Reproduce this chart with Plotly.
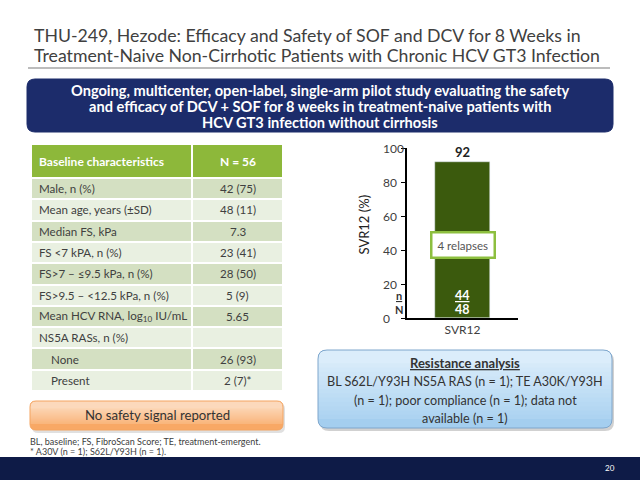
import plotly.graph_objects as go

# ---------------- data ----------------
categories = ["SVR12"]
svr_values = [92]
n_achieved = [44]
n_total = [48]
relapse_label = "4 relapses"

table_header = ["Baseline characteristics", "N = 56"]
table_labels = ["Male, n (%)", "Mean age, years (±SD)", "Median FS, kPa", "FS &lt;7 kPA, n (%)",
                "FS&gt;7 – ≤9.5 kPa, n (%)", "FS&gt;9.5 – &lt;12.5 kPa, n (%)",
                "Mean HCV RNA, log<sub>10</sub> IU/mL", "NS5A RASs, n (%)",
                "None", "Present"]
table_indent = [0, 0, 0, 0, 0, 0, 0, 0, 1, 1]
table_values = ["42 (75)", "48 (11)", "7.3", "23 (41)", "28 (50)", "5 (9)", "5.65", "", "26 (93)", "2 (7)*"]
yticks = [0, 20, 40, 60, 80, 100]

FONT = "Lato"
W, H = 640, 480

# table geometry (pixels)
COL_W = [161, 91]
HEAD_H = 34
ROW_H = 21.3


def px(x):
    return x / W


def py(y):
    return 1 - y / H


def rrect(x0, y0, x1, y1, r):
    rx, ry = r / W, r / H
    X0, X1 = px(x0), px(x1)
    Y0, Y1 = py(y0), py(y1)
    return (f"M{X0+rx},{Y0} L{X1-rx},{Y0} Q{X1},{Y0} {X1},{Y0-ry} "
            f"L{X1},{Y1+ry} Q{X1},{Y1} {X1-rx},{Y1} L{X0+rx},{Y1} "
            f"Q{X0},{Y1} {X0},{Y1+ry} L{X0},{Y0-ry} Q{X0},{Y0} {X0+rx},{Y0} Z")


def top_round(x0, y0, x1, yb, r):
    rx, ry = r / W, r / H
    X0, X1, Y0, YB = px(x0), px(x1), py(y0), py(yb)
    return (f"M{X0},{YB} L{X0},{Y0-ry} Q{X0},{Y0} {X0+rx},{Y0} L{X1-rx},{Y0} "
            f"Q{X1},{Y0} {X1},{Y0-ry} L{X1},{YB} Z")


def hex_rgb(h):
    h = h.lstrip("#")
    return [int(h[i:i + 2], 16) for i in (0, 2, 4)]


def lerp(c0, c1, t):
    a, b = hex_rgb(c0), hex_rgb(c1)
    return "rgb({},{},{})".format(*[round(a[k] + (b[k] - a[k]) * t) for k in range(3)])


def grad_box(shapes, x0, y0, x1, y1, r, top_col, bot_col, border, steps=14):
    shapes.append(dict(type="path", xref="paper", yref="paper", path=rrect(x0, y0, x1, y1, r),
                       fillcolor=bot_col, line=dict(width=0)))
    span = (y1 - r) - (y0 + r)
    ybs = [(y1 - r) - span * i / steps for i in range(steps)] + [y0 + r * 0.5]
    for i in range(steps):
        mid = (ybs[i] + ybs[i + 1]) / 2
        t = (mid - y0) / (y1 - y0)
        shapes.append(dict(type="path", xref="paper", yref="paper",
                           path=top_round(x0, y0, x1, ybs[i], r),
                           fillcolor=lerp(top_col, bot_col, t), line=dict(width=0)))
    shapes.append(dict(type="path", xref="paper", yref="paper", path=rrect(x0, y0, x1, y1, r),
                       fillcolor="rgba(0,0,0,0)", line=dict(color=border, width=1)))


def note(x, y, text, size, color="#404040", anchor="center", bold=False):
    if bold:
        text = f"<b>{text}</b>"
    return dict(xref="paper", yref="paper", x=px(x), y=py(y), xanchor=anchor, yanchor="middle",
                showarrow=False, text=text, font=dict(family=FONT, size=size, color=color))


fig = go.Figure()

# ---- bar chart ----
fig.add_trace(go.Bar(x=categories, y=svr_values, marker_color="#3B5A0D", width=0.5,
                     showlegend=False, hoverinfo="skip"))

# ---- table as heatmap cells on its own axes ----
n_rows = len(table_labels)
x_edges = [0, COL_W[0], COL_W[0] + COL_W[1]]
y_edges = [0, HEAD_H] + [HEAD_H + ROW_H * (i + 1) for i in range(n_rows)]
z = [[0, 0]] + [[1, 1] if i % 2 == 0 else [2, 2] for i in range(n_rows)]
fig.add_trace(go.Heatmap(x=x_edges, y=y_edges, z=z, zmin=0, zmax=2,
                         colorscale=[[0, "#8DB83A"], [0.5, "#D4E0C2"], [1, "#E9F0E1"]],
                         showscale=False, xgap=2, ygap=2, hoverinfo="skip",
                         xaxis="x2", yaxis="y2"))

shapes = []
annotations = []

row_centers = [(y_edges[i] + y_edges[i + 1]) / 2 for i in range(len(y_edges) - 1)]
col_center2 = COL_W[0] + COL_W[1] / 2
annotations.append(dict(xref="x2", yref="y2", x=6, y=row_centers[0], xanchor="left", yanchor="middle",
                        showarrow=False, text=f"<b>{table_header[0]}</b>",
                        font=dict(family=FONT, size=12, color="white")))
annotations.append(dict(xref="x2", yref="y2", x=col_center2, y=row_centers[0], xanchor="center",
                        yanchor="middle", showarrow=False, text=f"<b>{table_header[1]}</b>",
                        font=dict(family=FONT, size=12, color="white")))
for lab, ind, val, yc in zip(table_labels, table_indent, table_values, row_centers[1:]):
    annotations.append(dict(xref="x2", yref="y2", x=6 + 12 * ind, y=yc, xanchor="left", yanchor="middle",
                            showarrow=False, text=lab, font=dict(family=FONT, size=11.6, color="#404040")))
    if val:
        annotations.append(dict(xref="x2", yref="y2", x=col_center2, y=yc, xanchor="center",
                                yanchor="middle", showarrow=False, text=val,
                                font=dict(family=FONT, size=11.6, color="#404040")))

# ---- slide decoration ----
shapes.append(dict(type="line", xref="paper", yref="paper", x0=px(28), x1=px(610), y0=py(68), y1=py(68),
                   line=dict(color="#A6A6A6", width=1.5)))
shapes.append(dict(type="path", xref="paper", yref="paper", path=rrect(27, 79, 613, 132, 8),
                   fillcolor="#1C2C6B", line=dict(color="#1C2C6B", width=1)))
# orange box
shapes.append(dict(type="path", xref="paper", yref="paper", path=rrect(32, 403, 285, 433, 6),
                   fillcolor="rgba(0,0,0,0.12)", line=dict(width=0)))
grad_box(shapes, 30, 401, 283, 430, 6, "#FDE4CE", "#F8A865", "#F4A460")
# blue box
shapes.append(dict(type="path", xref="paper", yref="paper", path=rrect(320, 352, 614, 431, 9),
                   fillcolor="rgba(0,0,0,0.18)", line=dict(width=0)))
grad_box(shapes, 318, 350, 612, 428, 9, "#E2F1FC", "#A4CEEF", "#7EA6CC")
# bottom bar
shapes.append(dict(type="rect", xref="paper", yref="paper", x0=0, x1=1, y0=0, y1=py(457),
                   fillcolor="#0E1B47", line=dict(width=0)))

annotations.append(note(32, 36, "THU-249, Hezode: Efficacy and Safety of SOF and DCV for 8 Weeks in", 17.7, anchor="left"))
annotations.append(note(32, 55, "Treatment-Naive Non-Cirrhotic Patients with Chronic HCV GT3 Infection", 17.7, anchor="left"))
for yy, t in zip([90, 106.5, 123], ["Ongoing, multicenter, open-label, single-arm pilot study evaluating the safety",
                                   "and efficacy of DCV + SOF for 8 weeks in treatment-naive patients with",
                                   "HCV GT3 infection without cirrhosis"]):
    annotations.append(note(320, yy, t, 14.6, color="white", bold=True))
annotations.append(note(157, 415, "No safety signal reported", 13.2, color="#333333"))
annotations.append(note(28, 441, "BL, baseline; FS, FibroScan Score; TE, treatment-emergent.", 9, anchor="left"))
annotations.append(note(28, 451.5, "* A30V (n = 1); S62L/Y93H (n = 1).", 9, anchor="left"))
annotations.append(note(465, 363, "<u>Resistance analysis</u>", 13, color="#333333", bold=True))
for yy, t in zip([381.5, 400, 418], ["BL S62L/Y93H NS5A RAS (n = 1); TE A30K/Y93H",
                                    "(n = 1); poor compliance (n = 1); data not",
                                    "available (n = 1)"]):
    annotations.append(note(465, yy, t, 12.6, color="#333333"))
annotations.append(note(610, 468, "20", 8, color="white"))

# ---- bar chart labels ----
for c, v, n, N in zip(categories, svr_values, n_achieved, n_total):
    annotations.append(dict(xref="x", yref="y", x=c, y=v, yanchor="bottom", showarrow=False,
                            text=f"<b>{v}</b>", font=dict(family=FONT, size=13, color="#222222")))
    annotations.append(dict(xref="x", yref="y", x=c, y=13.5, yanchor="middle", showarrow=False,
                            text=f"<b><u>{n}</u></b>", font=dict(family=FONT, size=12.5, color="white")))
    annotations.append(dict(xref="x", yref="y", x=c, y=5.2, yanchor="middle", showarrow=False,
                            text=f"<b>{N}</b>", font=dict(family=FONT, size=12.5, color="white")))
    annotations.append(dict(xref="x", yref="y", x=c, y=43, yanchor="middle", showarrow=False,
                            text=relapse_label, bgcolor="white", bordercolor="#8DBF3F", borderwidth=2.5,
                            borderpad=5, font=dict(family=FONT, size=11.5, color="#555555")))
annotations.append(dict(xref="paper", yref="y", x=px(399), y=13.5, yanchor="middle", showarrow=False,
                        text="<b><u>n</u></b>", font=dict(family=FONT, size=11, color="#333333")))
annotations.append(dict(xref="paper", yref="y", x=px(399), y=5.2, yanchor="middle", showarrow=False,
                        text="<b>N</b>", font=dict(family=FONT, size=11, color="#333333")))
for t in yticks:
    annotations.append(dict(xref="paper", yref="y", x=px(381), y=t, xanchor="left", yanchor="middle",
                            showarrow=False, text=str(t), font=dict(family=FONT, size=12, color="#404040")))
annotations.append(dict(xref="paper", yref="y", x=px(363), y=55, xanchor="center", yanchor="middle",
                        showarrow=False, textangle=-90, text="SVR12 (%)",
                        font=dict(family=FONT, size=13, color="#222222")))

fig.update_layout(
    width=W, height=H, autosize=False,
    margin=dict(l=0, r=0, t=0, b=0, autoexpand=False),
    paper_bgcolor="white", plot_bgcolor="white",
    font=dict(family=FONT),
    shapes=shapes, annotations=annotations,
    xaxis=dict(domain=[px(407), px(518)], range=[-0.5, 0.5], showgrid=False, showline=True,
               linecolor="#000000", linewidth=1.5, ticks="", fixedrange=True,
               tickfont=dict(family=FONT, size=12, color="#404040")),
    yaxis=dict(domain=[py(318), py(148)], range=[0, 100], tickvals=yticks, showgrid=False,
               showline=True, linecolor="#000000", linewidth=1.5, ticks="outside", ticklen=4,
               tickcolor="#000000", zeroline=False, showticklabels=False),
    xaxis2=dict(domain=[px(31), px(283)], range=[0, x_edges[-1]], visible=False, fixedrange=True),
    yaxis2=dict(domain=[py(144 + y_edges[-1]), py(144)], range=[y_edges[-1], 0], visible=False,
                fixedrange=True, anchor="x2"),
    bargap=0,
)

fig.write_html("out.html", config={"displayModeBar": False},
               post_script="document.body.style.margin='0';document.body.style.overflow='hidden';")
